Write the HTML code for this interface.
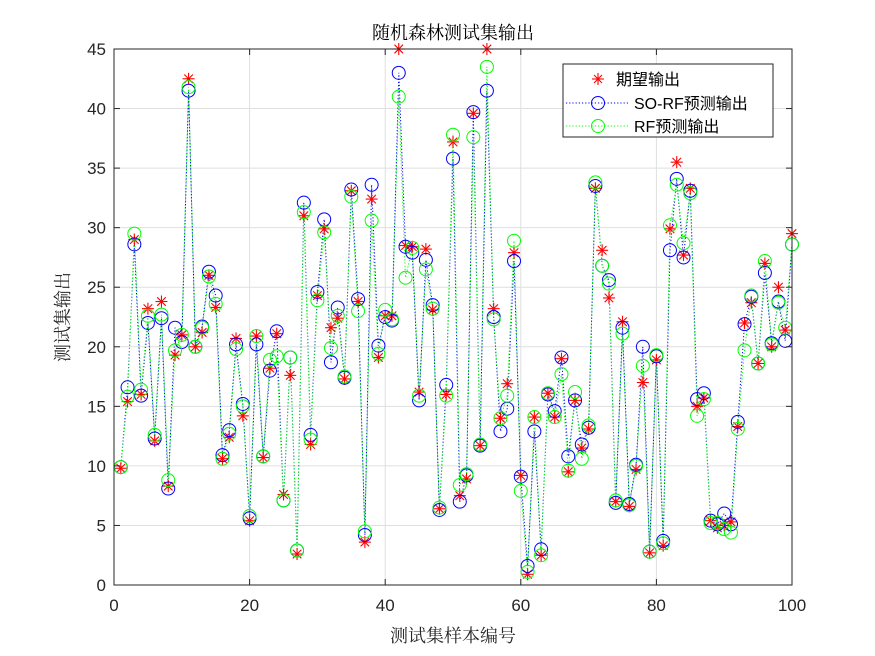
<!DOCTYPE html>
<html><head><meta charset="utf-8"><style>
html,body{margin:0;padding:0;background:#fff;}
svg{display:block;font-family:"Liberation Sans","Noto Sans CJK SC",sans-serif;}
.serif{font-family:"Liberation Serif","Noto Serif CJK SC",serif;}
</style></head><body>
<svg id="s" width="875" height="656" xmlns="http://www.w3.org/2000/svg">
<rect width="875" height="656" fill="#fff"/>
<g id="grid"></g>
<g id="data"></g>
<rect x="114" y="49" width="678" height="536" fill="none" stroke="#262626" stroke-width="1"/>
<g id="ticks" font-size="17" fill="#262626"></g>
<text class="serif" x="453" y="39" text-anchor="middle" font-size="18" fill="#000">随机森林测试集输出</text>
<text class="serif" x="453" y="642" text-anchor="middle" font-size="18" fill="#262626">测试集样本编号</text>
<text class="serif" transform="translate(69,317) rotate(-90)" text-anchor="middle" font-size="18" fill="#262626">测试集输出</text>
<g id="legend">
<rect x="563" y="64" width="210" height="73" fill="#fff" stroke="#262626" stroke-width="1"/>
<text x="616" y="85" font-size="16" fill="#000">期望输出</text>
<text x="634" y="109" font-size="16" fill="#000">SO-RF预测输出</text>
<text x="634" y="132" font-size="16" fill="#000">RF预测输出</text>
<line x1="566" y1="103" x2="630" y2="103" stroke="#00f" stroke-dasharray="1.2 2"/>
<line x1="566" y1="126" x2="630" y2="126" stroke="#0f0" stroke-dasharray="1.2 2"/>
<circle cx="598" cy="103" r="6.5" fill="none" stroke="#00f"/>
<circle cx="598" cy="126" r="6.5" fill="none" stroke="#0f0"/>
<g stroke="#f00" stroke-width="1.1"><line x1="592" y1="79" x2="604" y2="79"/><line x1="598" y1="73" x2="598" y2="85"/><line x1="594" y1="75" x2="602" y2="83"/><line x1="594" y1="83" x2="602" y2="75"/></g>
</g>
</svg>
<script>
var R=[9.8,15.4,29,16,23.2,12.1,23.8,8.3,19.3,21,42.5,20,21.2,26,23.3,10.6,12.4,20.7,14.2,5.4,20.9,10.7,18.2,21.1,7.6,17.6,2.6,31,11.8,24.3,29.9,21.6,22.4,17.3,33.1,23.8,3.6,32.4,19.1,22.6,22.6,45,28.5,28.4,16.2,28.2,23.1,6.4,16,37.2,7.5,8.9,39.6,11.7,45,23.2,14,16.9,27.9,9.2,0.9,14.1,2.5,16.1,14.1,19,9.5,15.5,11.5,13.1,33.3,28.1,24.1,7,22.1,6.6,9.7,17,2.7,18.9,3.3,29.9,35.5,27.7,33.3,15,15.7,5.4,4.8,5,5.3,13.3,22,23.7,18.6,27,20,25,21.4,29.5];
var B=[9.9,16.6,28.6,15.9,22,12.3,22.4,8.1,21.6,20.4,41.5,20,21.7,26.3,24.3,10.9,13,20.2,15.2,5.6,20.2,10.8,18,21.3,7.1,19.1,2.9,32.1,12.6,24.6,30.7,18.7,23.3,17.4,33.2,24,4.2,33.6,20.1,22.5,22.2,43,28.4,27.9,15.5,27.3,23.5,6.3,16.8,35.8,7,9.2,39.7,11.7,41.5,22.5,12.9,14.8,27.2,9.1,1.6,12.9,3,16,14.6,19.1,10.8,15.5,11.8,13.2,33.5,26.8,25.6,6.9,21.6,6.8,10.1,20,2.8,19.2,3.7,28.1,34.1,27.5,33.1,15.6,16.1,5.4,5.1,6,5.1,13.7,21.9,24.2,18.6,26.2,20.3,23.8,20.5,28.6];
var G=[9.9,15.8,29.5,16.4,22.6,12.6,22.7,8.8,19.7,21,41.8,20,21.6,25.9,23.6,10.6,12.7,19.8,15,5.8,20.9,10.8,18.9,19.2,7.1,19.1,2.9,31.3,12.2,23.9,29.6,19.9,22.6,17.5,32.6,23,4.5,30.6,19.4,23.1,22.3,41,25.8,28.3,15.9,26.5,23.2,6.5,15.9,37.8,8.4,9.3,37.6,11.8,43.5,22.3,14,15.9,28.9,7.9,1.1,14.1,2.5,16.1,14.1,17.7,9.6,16.2,10.6,13.4,33.8,26.8,25.3,7.1,21.1,6.7,10,18.4,2.8,19.3,3.5,30.2,33.6,28.7,32.9,14.2,15.6,5.2,5.2,4.7,4.4,13.1,19.7,24.3,18.6,27.2,20.2,23.7,21.6,28.6];
function X(i){return 114+i*6.78}function Y(v){return 585-v*536/45}
var ns="http://www.w3.org/2000/svg";
function el(p,t,a){var e=document.createElementNS(ns,t);for(var k in a)e.setAttribute(k,a[k]);p.appendChild(e);return e}
var g=document.getElementById('grid'),tk=document.getElementById('ticks'),d=document.getElementById('data');
for(var i=0;i<=100;i+=20){var x=X(i);if(i>0&&i<100)el(g,'line',{x1:x,y1:49,x2:x,y2:585,stroke:'#dfdfdf'});el(tk,'line',{x1:x,y1:585,x2:x,y2:579,stroke:'#262626'});el(tk,'line',{x1:x,y1:49,x2:x,y2:55,stroke:'#262626'});var t=el(tk,'text',{x:x,y:611,'text-anchor':'middle'});t.textContent=i}
for(var v=0;v<=45;v+=5){var y=Y(v);if(v>0&&v<45)el(g,'line',{x1:114,y1:y,x2:792,y2:y,stroke:'#dfdfdf'});el(tk,'line',{x1:114,y1:y,x2:120,y2:y,stroke:'#262626'});el(tk,'line',{x1:792,y1:y,x2:786,y2:y,stroke:'#262626'});var t=el(tk,'text',{x:106,y:y+6,'text-anchor':'end'});t.textContent=v}
function line(a,c){var p='';a.forEach(function(v,i){p+=(i?'L':'M')+X(i+1).toFixed(1)+' '+Y(v).toFixed(1)});el(d,'path',{d:p,fill:'none',stroke:c,'stroke-dasharray':'1.2 2','stroke-width':1})}
line(B,'#00f');line(G,'#0f0');
R.forEach(function(v,i){var x=X(i+1),y=Y(v),s=6,q=4.3;var gg=el(d,'g',{stroke:'#f00','stroke-width':1.1});el(gg,'line',{x1:x-s,y1:y,x2:x+s,y2:y});el(gg,'line',{x1:x,y1:y-s,x2:x,y2:y+s});el(gg,'line',{x1:x-q,y1:y-q,x2:x+q,y2:y+q});el(gg,'line',{x1:x-q,y1:y+q,x2:x+q,y2:y-q})});
B.forEach(function(v,i){el(d,'circle',{cx:X(i+1),cy:Y(v),r:6.5,fill:'none',stroke:'#00f'})});
G.forEach(function(v,i){el(d,'circle',{cx:X(i+1),cy:Y(v),r:6.5,fill:'none',stroke:'#0f0'})});
</script>
</body></html>
